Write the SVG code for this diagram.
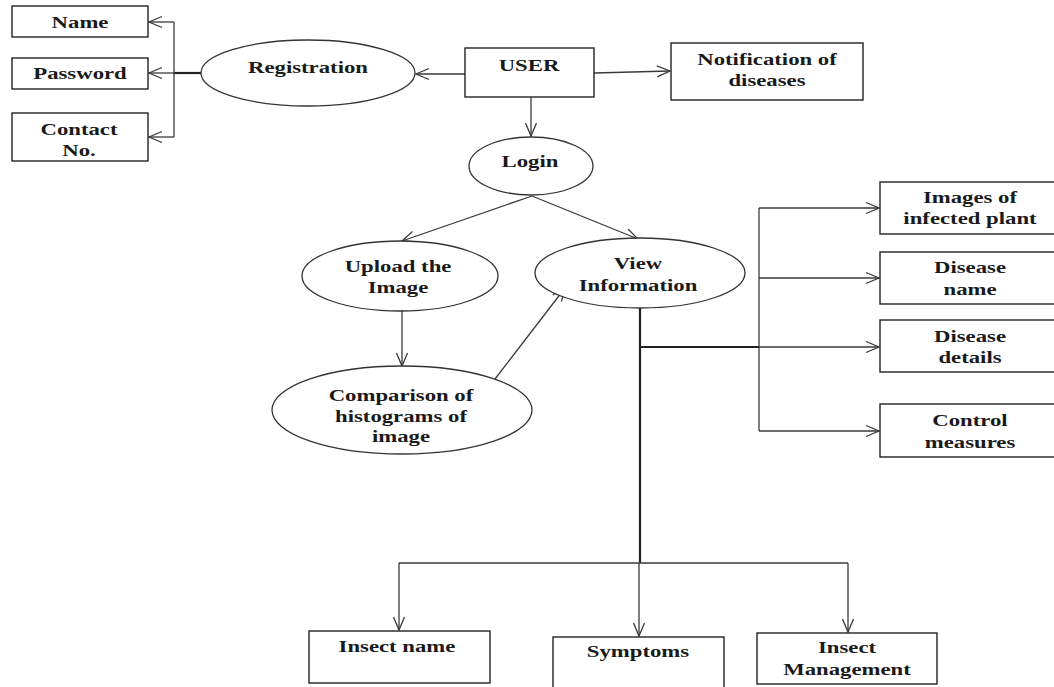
<svg xmlns="http://www.w3.org/2000/svg" width="1054" height="687" viewBox="0 0 1054 687">
<defs>
<style>
.box{fill:#fff;stroke:#222;stroke-width:1.4}
.ell{fill:#fff;stroke:#333;stroke-width:1.3}
.t{font-family:"Liberation Serif","Times New Roman",serif;font-weight:bold;font-size:17.5px;fill:#1a1a1a;text-anchor:middle}
.ln{fill:none;stroke:#3a3a3a;stroke-width:1.3}
.thk{fill:none;stroke:#222;stroke-width:2.2}
.ar{marker-end:url(#arr)}
</style>
<marker id="arr" markerUnits="userSpaceOnUse" markerWidth="16" markerHeight="14" refX="14" refY="7" orient="auto">
<path d="M1,1.5 L14,7 L1,12.5" fill="none" stroke="#3a3a3a" stroke-width="1.3"/>
</marker>
</defs>
<rect width="1054" height="687" fill="#fff"/>

<g id="connectors">
<line class="thk" x1="201" y1="73" x2="174" y2="73"/>
<line class="ln" x1="174" y1="22" x2="174" y2="137"/>
<line class="ln ar" x1="174" y1="22" x2="149" y2="22"/>
<line class="ln ar" x1="174" y1="73" x2="149" y2="73"/>
<line class="ln ar" x1="174" y1="137" x2="149" y2="137"/>
<line class="ln ar" x1="465" y1="74" x2="416" y2="74"/>
<line class="ln ar" x1="594" y1="73" x2="670" y2="71"/>
<line class="ln ar" x1="531" y1="97" x2="531" y2="136"/>
<line class="ln ar" x1="532" y1="196" x2="402" y2="241"/>
<line class="ln ar" x1="532" y1="196" x2="638" y2="239"/>
<line class="ln ar" x1="402" y1="310" x2="402" y2="366"/>
<line class="ln ar" x1="495" y1="379" x2="565" y2="288"/>
<line class="thk" x1="640" y1="308" x2="640" y2="563"/>
<line class="thk" x1="640" y1="347" x2="759" y2="347"/>
<line class="ln" x1="759" y1="208" x2="759" y2="431"/>
<line class="ln ar" x1="759" y1="208" x2="879" y2="208"/>
<line class="ln ar" x1="759" y1="278" x2="879" y2="278"/>
<line class="ln ar" x1="759" y1="347" x2="879" y2="347"/>
<line class="ln ar" x1="759" y1="431" x2="879" y2="431"/>
<line class="ln" x1="399" y1="563" x2="848" y2="563"/>
<line class="ln ar" x1="399" y1="563" x2="399" y2="630"/>
<line class="ln ar" x1="639" y1="563" x2="639" y2="636"/>
<line class="ln ar" x1="848" y1="563" x2="848" y2="632"/>
</g>

<g id="name"><rect class="box" x="12" y="6" width="136" height="31"/>
<text class="t" transform="translate(80,28) scale(1.3,1)">Name</text></g>
<g id="password"><rect class="box" x="12" y="58" width="136" height="31"/>
<text class="t" transform="translate(80,79) scale(1.3,1)">Password</text></g>
<g id="contact"><rect class="box" x="12" y="113" width="136" height="48"/>
<text class="t" transform="translate(79,135) scale(1.3,1)"><tspan x="0" y="0">Contact</tspan><tspan x="0" y="21">No.</tspan></text></g>
<g id="registration"><ellipse class="ell" cx="308" cy="73" rx="107" ry="33"/>
<text class="t" transform="translate(308,73) scale(1.3,1)">Registration</text></g>
<g id="user"><rect class="box" x="465" y="48" width="129" height="49"/>
<text class="t" transform="translate(529,71) scale(1.3,1)">USER</text></g>
<g id="notification"><rect class="box" x="671" y="43" width="192" height="57"/>
<text class="t" transform="translate(767,65) scale(1.3,1)"><tspan x="0" y="0">Notification of</tspan><tspan x="0" y="21">diseases</tspan></text></g>
<g id="login"><ellipse class="ell" cx="531" cy="166" rx="62" ry="29"/>
<text class="t" transform="translate(530,167) scale(1.3,1)">Login</text></g>
<g id="upload"><ellipse class="ell" cx="400" cy="276" rx="98" ry="35"/>
<text class="t" transform="translate(398,272) scale(1.3,1)"><tspan x="0" y="0">Upload the</tspan><tspan x="0" y="21">Image</tspan></text></g>
<g id="view"><ellipse class="ell" cx="640" cy="273" rx="105" ry="35"/>
<text class="t" transform="translate(638,269) scale(1.3,1)"><tspan x="0" y="0">View</tspan><tspan x="0" y="22">Information</tspan></text></g>
<g id="comparison"><ellipse class="ell" cx="402" cy="410" rx="130" ry="44"/>
<text class="t" transform="translate(401,401) scale(1.3,1)"><tspan x="0" y="0">Comparison of</tspan><tspan x="0" y="21">histograms of</tspan><tspan x="0" y="41">image</tspan></text></g>
<g id="images"><rect class="box" x="880" y="182" width="180" height="52"/>
<text class="t" transform="translate(970,203) scale(1.3,1)"><tspan x="0" y="0">Images of</tspan><tspan x="0" y="21">infected plant</tspan></text></g>
<g id="disease-name"><rect class="box" x="880" y="252" width="180" height="52"/>
<text class="t" transform="translate(970,273) scale(1.3,1)"><tspan x="0" y="0">Disease</tspan><tspan x="0" y="22">name</tspan></text></g>
<g id="disease-details"><rect class="box" x="880" y="320" width="180" height="52"/>
<text class="t" transform="translate(970,342) scale(1.3,1)"><tspan x="0" y="0">Disease</tspan><tspan x="0" y="21">details</tspan></text></g>
<g id="control"><rect class="box" x="880" y="404" width="180" height="53"/>
<text class="t" transform="translate(970,426) scale(1.3,1)"><tspan x="0" y="0">Control</tspan><tspan x="0" y="22">measures</tspan></text></g>
<g id="insect-name"><rect class="box" x="309" y="631" width="181" height="52"/>
<text class="t" transform="translate(397,652) scale(1.3,1)">Insect name</text></g>
<g id="symptoms"><rect class="box" x="553" y="637" width="171" height="60"/>
<text class="t" transform="translate(638,657) scale(1.3,1)">Symptoms</text></g>
<g id="insect-management"><rect class="box" x="757" y="633" width="180" height="51"/>
<text class="t" transform="translate(847,653) scale(1.3,1)"><tspan x="0" y="0">Insect</tspan><tspan x="0" y="22">Management</tspan></text></g>
</svg>
